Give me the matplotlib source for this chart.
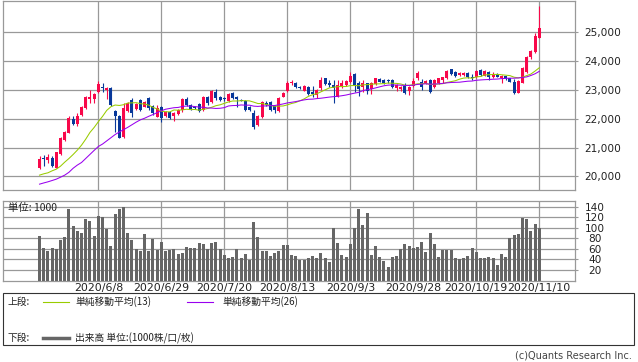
import numpy as np
import pandas as pd
import matplotlib.pyplot as plt
from matplotlib.lines import Line2D
from matplotlib.patches import Rectangle

plt.rcParams['font.family'] = ['DejaVu Sans']
jp = ['Noto Sans CJK JP', 'DejaVu Sans']

# trading days 2020/5/19 - 2020/11/10 (japanese holidays removed)
holidays = ["2020-07-23", "2020-07-24", "2020-08-10", "2020-09-21", "2020-09-22", "2020-11-03"]
dates = pd.bdate_range("2020-05-19", "2020-11-10")
dates = dates[~dates.isin(pd.to_datetime(holidays))]

open_ = [20284, 20642, 20573, 20631, 20284, 20770, 21267, 21499, 21985, 21811,
         22130, 22361, 22685, 22685, 22916, 23110, 22997, 23055, 22268, 22095,
         21377, 22280, 22650, 22326, 22650, 22419, 22731, 22442, 22072, 22419,
         22095, 22245, 22095, 22164, 22303, 22685, 22477, 22419, 22512, 22303,
         22743, 22569, 22939, 22743, 22685, 22615, 22905, 22766, 22650, 22615,
         22419, 22187, 21782, 22048, 22557, 22569, 22442, 22280, 22766, 22974,
         23229, 23229, 23100, 22974, 23090, 22939, 22823, 23055, 23402, 23252,
         23171, 22766, 23136, 23171, 23286, 23552, 23229, 23090, 23229, 23020,
         23205, 23367, 23344, 23330, 23344, 23055, 23020, 23136, 22974, 23136,
         23402, 23286, 23229, 23344, 23090, 23252, 23344, 23402, 23714, 23633,
         23506, 23506, 23599, 23460, 23437, 23691, 23494, 23610, 23437, 23552,
         23402, 23483, 23402, 23286, 22905, 23252, 23633, 24154, 24328, 24814]
high = [20712, 20735, 20770, 20689, 20851, 21348, 21580, 22077, 22100, 22193,
        22447, 22794, 22997, 22881, 23309, 23229, 23090, 23090, 22303, 22130,
        22557, 22580, 22708, 22530, 22673, 22620, 22766, 22477, 22477, 22442,
        22280, 22270, 22245, 22330, 22731, 22743, 22500, 22450, 22557, 22800,
        22800, 23000, 23032, 22780, 22743, 22880, 22930, 22789, 22670, 22650,
        22440, 22303, 22130, 22600, 22600, 22600, 22470, 22760, 22940, 23321,
        23344, 23260, 23136, 23170, 23136, 23136, 23020, 23437, 23430, 23344,
        23344, 23344, 23344, 23350, 23633, 23575, 23321, 23344, 23252, 23286,
        23430, 23400, 23370, 23367, 23370, 23200, 23120, 23229, 23120, 23402,
        23668, 23367, 23350, 23367, 23367, 23430, 23460, 23690, 23740, 23660,
        23620, 23625, 23620, 23552, 23700, 23720, 23680, 23640, 23633, 23575,
        23520, 23500, 23430, 23367, 23340, 23780, 24160, 24390, 24964, 25913]
low = [20249, 20365, 20457, 20307, 20272, 20746, 21232, 21487, 21776, 21753,
       22100, 22340, 22534, 22557, 22881, 22939, 22685, 22430, 21551, 21320,
       21320, 22245, 22048, 22290, 22280, 22390, 22303, 22130, 22048, 21898,
       22060, 21990, 21933, 22140, 22245, 22442, 22303, 22338, 22245, 22268,
       22477, 22534, 22650, 22620, 22615, 22590, 22700, 22419, 22600, 22270,
       22270, 21643, 21750, 22020, 22450, 22270, 22187, 22245, 22740, 22939,
       23170, 23060, 23020, 22950, 22823, 22766, 22708, 22997, 23170, 23090,
       22557, 22743, 23055, 23140, 23229, 22939, 22789, 22939, 22858, 22858,
       23170, 23260, 23220, 23252, 23060, 22974, 22974, 22858, 22823, 23090,
       23344, 22997, 23200, 22905, 23055, 23220, 23252, 23380, 23530, 23460,
       23480, 23485, 23402, 23344, 23410, 23480, 23470, 23344, 23402, 23437,
       23229, 23340, 23260, 22858, 22880, 23229, 23600, 24062, 24270, 24790]
close = [20596, 20596, 20677, 20342, 20827, 21325, 21545, 22042, 21811, 22100,
         22400, 22760, 22766, 22858, 23194, 23075, 23055, 22477, 22095, 21343,
         22384, 22557, 22187, 22500, 22303, 22592, 22361, 22187, 22384, 22014,
         22245, 22014, 22210, 22303, 22685, 22477, 22338, 22361, 22280, 22743,
         22534, 22974, 22708, 22650, 22673, 22847, 22731, 22673, 22627, 22303,
         22303, 21725, 22095, 22569, 22477, 22303, 22303, 22731, 22905, 23229,
         23286, 23090, 23080, 23136, 22858, 22858, 22997, 23344, 23205, 23171,
         23055, 23171, 23252, 23321, 23483, 23136, 23020, 23252, 22974, 23229,
         23402, 23286, 23252, 23315, 23090, 23171, 23090, 22905, 23090, 23321,
         23599, 23090, 23321, 22939, 23344, 23402, 23437, 23657, 23552, 23483,
         23599, 23599, 23460, 23402, 23668, 23506, 23657, 23437, 23518, 23460,
         23494, 23367, 23286, 22881, 23310, 23749, 24131, 24362, 24871, 25138]
# 出来高 (x1000)
volume = [85, 62, 56, 62, 59, 77, 83, 136, 104, 93,
          90, 117, 113, 85, 123, 120, 98, 66, 126, 136,
          140, 90, 77, 60, 55, 88, 55, 79, 58, 73,
          56, 58, 60, 51, 53, 64, 62, 62, 71, 69,
          59, 72, 73, 60, 48, 43, 45, 60, 43, 50,
          39, 110, 83, 56, 56, 47, 53, 55, 68, 68,
          48, 46, 39, 39, 42, 46, 42, 52, 42, 35,
          100, 71, 48, 44, 69, 100, 136, 105, 128, 48,
          65, 45, 37, 26, 45, 46, 60, 69, 65, 62,
          64, 73, 54, 90, 69, 45, 58, 58, 58, 43,
          40, 43, 46, 62, 54, 43, 43, 45, 43, 29,
          50, 45, 81, 86, 88, 119, 117, 94, 107, 100]

# moving average values at the left edge (earlier data not shown)
ma13_head = [20041, 20087, 20122, 20191, 20249, 20353, 20492, 20619, 20758, 20909,
             21082, 21290]
ma26_head = [19728, 19770, 19809, 19855, 19902, 19970, 20041, 20140, 20280, 20390,
             20480, 20620, 20760, 20900, 21036, 21120, 21230, 21340, 21450, 21540,
             21620, 21700, 21790, 21880, 21960]

label_dates = ["2020-06-08", "2020-06-29", "2020-07-20", "2020-08-13",
               "2020-09-03", "2020-09-28", "2020-10-19", "2020-11-10"]
price_ticks = [20000, 21000, 22000, 23000, 24000, 25000]
vol_ticks = [20, 40, 60, 80, 100, 120, 140]

RED = '#F8084A'
BLUE = '#08389A'
GREEN = '#99CC00'
PURPLE = '#9900EE'
GRID = '#999999'

c = pd.Series(close, dtype=float)
ma13 = c.rolling(13).mean().to_numpy()
ma13[:12] = ma13_head
ma26 = c.rolling(26).mean().to_numpy()
ma26[:25] = ma26_head

x = np.arange(len(dates))
o = np.array(open_, dtype=float)
cl = np.array(close, dtype=float)
col = np.where(cl >= o, RED, BLUE)
label_pos = [dates.get_loc(pd.Timestamp(d)) for d in label_dates]
label_txt = [f"{d.year}/{d.month}/{d.day}" for d in pd.to_datetime(label_dates)]

W, H = 638, 362
fig = plt.figure(figsize=(W / 100, H / 100), dpi=100)
ax = fig.add_axes([3 / W, 1 - 190 / H, 572 / W, 189.5 / H])
axv = fig.add_axes([3 / W, 1 - 280.5 / H, 572 / W, 79.5 / H], sharex=ax)

# 上段: ローソク足 + 移動平均
ax.vlines(x, low, high, colors=col, lw=0.8, zorder=3)
ax.bar(x, np.maximum(np.abs(cl - o), 30), bottom=np.minimum(o, cl),
       width=0.72, color=col, lw=0, zorder=3)
ax.plot(x, ma13, color=GREEN, lw=0.75, zorder=4)
ax.plot(x, ma26, color=PURPLE, lw=0.75, zorder=4)

ax.set_xlim(-8.7, 127.5)
ax.set_ylim(19525, 26104)
ax.set_yticks(price_ticks)
ax.set_yticklabels([f"{v:,}" for v in price_ticks])
ax.yaxis.tick_right()
ax.tick_params(axis='y', length=2.2, pad=4.3, color=GRID, labelsize=7.6, labelcolor='#222222')
ax.tick_params(axis='x', length=0, labelbottom=False)
ax.set_xticks(label_pos)
ax.grid(color=GRID, lw=0.9)
ax.set_axisbelow(True)

# 下段: 出来高
axv.bar(x, volume, width=0.7, color='#666666', lw=0, zorder=3)
axv.set_ylim(0, 150.7)
axv.set_yticks(vol_ticks)
axv.yaxis.tick_right()
axv.tick_params(axis='y', length=2.2, pad=12, color=GRID, labelsize=7.6, labelcolor='#222222')
for t in axv.get_yticklabels():
    t.set_horizontalalignment('center')
axv.set_xticks(label_pos)
axv.set_xticklabels(label_txt)
axv.tick_params(axis='x', length=0, pad=1.5, labelsize=7.9, labelcolor='#222222')
axv.grid(color=GRID, lw=0.9)
axv.set_axisbelow(True)
axv.text(0.009, 0.975, "単位: 1000", transform=axv.transAxes, ha='left', va='top',
         fontsize=7.5, family=jp, color='#222222')

for a in (ax, axv):
    for s in a.spines.values():
        s.set_color(GRID)
        s.set_linewidth(0.9)

# 凡例
fig.add_artist(Rectangle((3 / W, 1 - 345 / H), 631 / W, 52 / H, transform=fig.transFigure,
                         fill=False, edgecolor='#333333', lw=0.8))
y1, y2 = 1 - 302 / H, 1 - 338 / H
fig.text(8 / W, y1, "上段:", family=jp, fontsize=7, va='center', color='#222222')
fig.add_artist(Line2D([43 / W, 69 / W], [y1, y1], color=GREEN, lw=0.8))
fig.text(75 / W, y1, "単純移動平均(13)", family=jp, fontsize=7, va='center', color='#222222')
fig.add_artist(Line2D([187 / W, 213 / W], [y1, y1], color=PURPLE, lw=0.8))
fig.text(222 / W, y1, "単純移動平均(26)", family=jp, fontsize=7, va='center', color='#222222')
fig.text(8 / W, y2, "下段:", family=jp, fontsize=7, va='center', color='#222222')
fig.add_artist(Line2D([43 / W, 69 / W], [y2, y2], color='#666666', lw=2.5))
fig.text(75 / W, y2, "出来高 単位:(1000株/口/枚)", family=jp, fontsize=7, va='center', color='#222222')

fig.text(632 / W, 1 - 356 / H, "(c)Quants Research Inc.", ha='right', va='center',
         fontsize=7, color='#444444')

plt.savefig("out.png", dpi=100)
